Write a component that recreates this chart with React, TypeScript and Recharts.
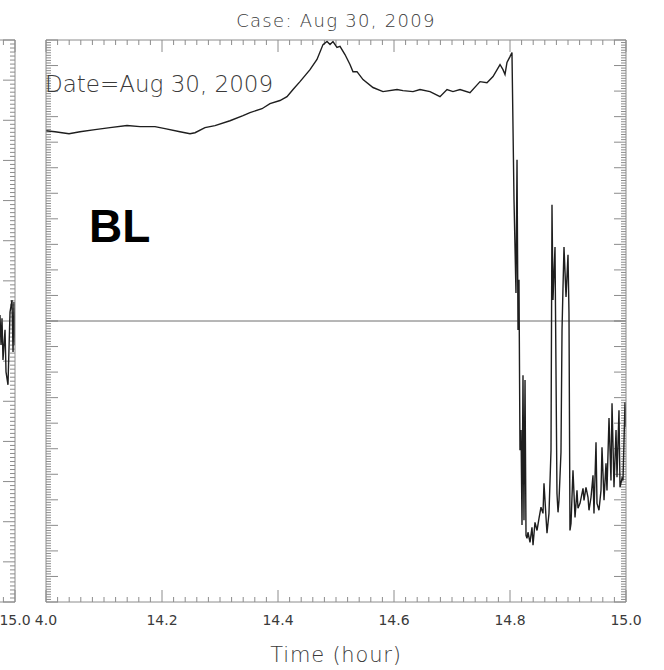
import React from "react";
import { LineChart, Line, XAxis, YAxis, ReferenceLine } from "recharts";

const AXIS = "#8c8c8c";
const ZERO = "#6e6e6e";
const INK = "#1e1e1e";
const TEXT = "#3a3a3a";
const FONT = '"DejaVu Sans", sans-serif';

// BL panel: time (hour) and signal
const blTime = [
  14.0, 14.0155, 14.0397, 14.0586, 14.0845, 14.1103, 14.1397, 14.1621, 14.1879, 14.2052,
  14.231, 14.2483, 14.2569, 14.2741, 14.2914, 14.3172, 14.3397, 14.3517, 14.3724, 14.3862,
  14.4034, 14.4155, 14.4259, 14.4379, 14.4552, 14.4672, 14.4776, 14.4845, 14.4897, 14.4948,
  14.5017, 14.5069, 14.5155, 14.5241, 14.5293, 14.5362, 14.5466, 14.5638, 14.581, 14.6052,
  14.6155, 14.6328, 14.6448, 14.6621, 14.6793, 14.6914, 14.7017, 14.7138, 14.731, 14.7483,
  14.7603, 14.7707, 14.7828, 14.7879, 14.7914, 14.7948, 14.8, 14.8034,
  14.8069, 14.8103, 14.8121, 14.8138, 14.8155, 14.8172, 14.819, 14.8207, 14.8224, 14.8241,
  14.8259, 14.8276, 14.8293, 14.831, 14.8345, 14.8379, 14.8397, 14.8431, 14.8466, 14.85,
  14.8534, 14.8569, 14.8586, 14.8621, 14.8638, 14.8672, 14.8707, 14.8724, 14.8741, 14.8776,
  14.881, 14.8828, 14.8845, 14.8879, 14.8897, 14.8914, 14.8931, 14.8966, 14.9, 14.9017,
  14.9034, 14.9052, 14.9086, 14.9121, 14.9155, 14.9172, 14.9207, 14.9259, 14.9276, 14.931,
  14.9345, 14.9362, 14.9397, 14.9431, 14.9448, 14.9483, 14.95, 14.9534, 14.9569, 14.9586,
  14.9621, 14.9655, 14.9672, 14.9707, 14.9741, 14.9759, 14.9793, 14.9828, 14.9845, 14.9879,
  14.9897, 14.9931, 14.9948, 14.9983, 15.0,
];
const blValue = [
  7.45, 7.41, 7.33, 7.41, 7.49, 7.57, 7.65, 7.61, 7.61, 7.53,
  7.41, 7.33, 7.37, 7.57, 7.65, 7.84, 8.04, 8.16, 8.31, 8.51,
  8.63, 8.78, 9.06, 9.37, 9.84, 10.24, 10.82, 10.94, 10.82, 10.94,
  10.71, 10.75, 10.43, 10.04, 9.76, 9.76, 9.45, 9.14, 8.98, 9.06,
  9.02, 8.98, 9.06, 8.98, 8.78, 9.06, 8.98, 9.06, 8.94, 9.37,
  9.33, 9.57, 10.04, 9.84, 9.65, 10.12, 10.35, 10.51,
  4.75, 1.1, 6.31, -0.35, 1.61, -5.06, -4.27, -7.99, -2.12, -7.8,
  -2.31, -8.39, -8.51, -8.27, -8.67, -8.08, -8.78, -7.88, -8.2, -7.73,
  -7.29, -7.53, -6.35, -7.69, -8.31, -7.53, -5.06, 4.55, 0.82, 2.9,
  -6.75, -7.49, -7.02, -5.14, -0.35, 1.33, 2.9, 0.94, 2.59, 0.31,
  -8.2, -7.92, -5.84, -7.69, -6.63, -7.33, -7.14, -6.55, -7.02, -6.51,
  -6.9, -7.41, -6.9, -6.04, -7.53, -4.75, -7.14, -7.41, -6.63, -4.94,
  -7.02, -5.57, -6.63, -3.8, -6.24, -3.22, -6.51, -4.27, -6.12, -3.49,
  -6.51, -6.16, -6.24, -3.18, -4.16,
];

// neighbouring panel, only its last minutes show at the left edge
const leftTime = [14.9741, 14.9759, 14.9776, 14.9793, 14.9828, 14.9845, 14.9879, 14.9914, 14.9948, 14.9966, 14.9983, 15.0];
const leftValue = [0.15, -0.6, 0.07, -0.97, -0.22, -1.27, -1.59, 0.22, 0.52, -0.77, 0.47, -0.6];

const xMajor = [14.0, 14.2, 14.4, 14.6, 14.8, 15.0];
const xMajorLabels = ["4.0", "14.2", "14.4", "14.6", "14.8", "15.0"];
const leftMajor = [15.0];
const leftMajorLabels = ["15.0"];

const title = "Case: Aug 30, 2009";
const dateNote = "Date=Aug 30, 2009";
const panelTag = "BL";
const xTitle = "Time (hour)";

const steps = (from: number, to: number, step: number) => {
  const out: number[] = [];
  const n = Math.round((to - from) / step);
  for (let i = 0; i <= n; i++) out.push(+(from + i * step).toFixed(4));
  return out;
};

const xTicks = steps(14, 15, 0.02);
const yTicks = steps(-11, 11, 0.1);
const leftXTicks = steps(14.9, 15, 0.02);
const leftYTicks = steps(-7, 7, 0.1);

const blData = blTime.map((t, i) => ({ t, v: blValue[i] }));
const leftData = leftTime.map((t, i) => ({ t, v: leftValue[i] }));

const isMajor = (v: number, per: number) => Math.abs(v * per - Math.round(v * per)) < 1e-6;

// tick lengths: 12px major / 5px minor, expressed in each axis' units
const PX_PER_HOUR = 580;
const tickLen = (major: boolean, pxPerUnit: number) => (major ? 12 : 5) / pxPerUnit;

const labelTick = (values: number[], labels: string[]) => (p: any) => {
  const i = values.findIndex((v) => Math.abs(v - p.payload.value) < 1e-6);
  return (
    <text x={p.x} y={p.y + 23} textAnchor="middle" fontSize={14} fill={TEXT} fontFamily={FONT}>
      {i >= 0 ? labels[i] : ""}
    </text>
  );
};

function frameTicks(opts: {
  xs: number[];
  ys: number[];
  xDomain: [number, number];
  yDomain: [number, number];
  pxPerY: number;
  left: boolean;
  right: boolean;
}) {
  const { xs, ys, xDomain, yDomain, pxPerY, left, right } = opts;
  const out: React.ReactNode[] = [];
  xs.forEach((t) => {
    const d = tickLen(isMajor(t, 5), pxPerY);
    out.push(
      <ReferenceLine key={`b${t}`} xAxisId="b" yAxisId="l" ifOverflow="visible" stroke={AXIS}
        segment={[{ x: t, y: yDomain[0] }, { x: t, y: yDomain[0] + d }]} />,
      <ReferenceLine key={`t${t}`} xAxisId="b" yAxisId="l" ifOverflow="visible" stroke={AXIS}
        segment={[{ x: t, y: yDomain[1] }, { x: t, y: yDomain[1] - d }]} />
    );
  });
  ys.forEach((v) => {
    const d = tickLen(isMajor(v, 1), PX_PER_HOUR);
    if (left)
      out.push(
        <ReferenceLine key={`l${v}`} xAxisId="b" yAxisId="l" ifOverflow="visible" stroke={AXIS}
          segment={[{ x: xDomain[0], y: v }, { x: xDomain[0] + d, y: v }]} />
      );
    if (right)
      out.push(
        <ReferenceLine key={`r${v}`} xAxisId="b" yAxisId="l" ifOverflow="visible" stroke={AXIS}
          segment={[{ x: xDomain[1], y: v }, { x: xDomain[1] - d, y: v }]} />
      );
  });
  return out;
}

const MAIN_X: [number, number] = [14, 15];
const MAIN_Y: [number, number] = [-11, 11];
const LEFT_X: [number, number] = [15 - 644 / PX_PER_HOUR, 15];
const LEFT_Y: [number, number] = [-7, 7];

export default function App() {
  return (
    <div style={{ position: "absolute", left: 0, top: 0, width: 664, height: 670, overflow: "hidden", background: "#fff" }}>
      {/* sliver of the previous panel */}
      <div style={{ position: "absolute", left: -629, top: 0 }}>
        <LineChart width={664} height={670} data={leftData} margin={{ top: 0, right: 0, bottom: 0, left: 0 }}>
          <XAxis xAxisId="b" dataKey="t" type="number" domain={LEFT_X} ticks={leftMajor} interval={0}
            tickSize={0} tickMargin={0} height={68} tickLine={false} axisLine={{ stroke: AXIS }}
            tick={labelTick(leftMajor, leftMajorLabels)} allowDataOverflow />
          <XAxis xAxisId="t" orientation="top" dataKey="t" type="number" domain={LEFT_X} height={40}
            tick={false} tickLine={false} axisLine={{ stroke: AXIS }} allowDataOverflow />
          <YAxis yAxisId="l" hide type="number" domain={LEFT_Y} allowDataOverflow />
          <YAxis yAxisId="r" orientation="right" type="number" domain={LEFT_Y} width={20}
            tick={false} tickLine={false} axisLine={{ stroke: AXIS }} />
          {frameTicks({ xs: leftXTicks, ys: leftYTicks, xDomain: LEFT_X, yDomain: LEFT_Y, pxPerY: 562 / 14, left: false, right: true })}
          <Line xAxisId="b" yAxisId="l" dataKey="v" stroke={INK} strokeWidth={1.4} dot={false} isAnimationActive={false} />
        </LineChart>
      </div>

      <div style={{ position: "absolute", left: 0, top: 0 }}>
        <LineChart width={664} height={670} data={blData} margin={{ top: 0, right: 0, bottom: 0, left: 0 }}>
          <XAxis xAxisId="b" dataKey="t" type="number" domain={MAIN_X} ticks={xMajor} interval={0}
            tickSize={0} tickMargin={0} height={68} tickLine={false} axisLine={{ stroke: AXIS }}
            tick={labelTick(xMajor, xMajorLabels)} allowDataOverflow />
          <XAxis xAxisId="t" orientation="top" dataKey="t" type="number" domain={MAIN_X} height={40}
            tick={false} tickLine={false} axisLine={{ stroke: AXIS }} allowDataOverflow />
          <YAxis yAxisId="l" type="number" domain={MAIN_Y} width={46}
            tick={false} tickLine={false} axisLine={{ stroke: AXIS }} allowDataOverflow />
          <YAxis yAxisId="r" orientation="right" type="number" domain={MAIN_Y} width={38}
            tick={false} tickLine={false} axisLine={{ stroke: AXIS }} />
          {frameTicks({ xs: xTicks, ys: yTicks, xDomain: MAIN_X, yDomain: MAIN_Y, pxPerY: 562 / 22, left: true, right: true })}
          <ReferenceLine xAxisId="b" yAxisId="l" y={0} stroke={ZERO} />
          <Line xAxisId="b" yAxisId="l" dataKey="v" stroke={INK} strokeWidth={1.4} dot={false} isAnimationActive={false} />
        </LineChart>
      </div>

      <svg width={664} height={670} style={{ position: "absolute", left: 0, top: 0, pointerEvents: "none" }}>
        <text x={336} y={27} textAnchor="middle" fontSize={18} fontWeight={300} letterSpacing={1.3} fill={TEXT} fontFamily={FONT}>
          {title}
        </text>
        <text x={45} y={92} fontSize={23} fontWeight={300} fill={TEXT} fontFamily={FONT}>
          {dateNote}
        </text>
        <text x={89} y={242} fontSize={46} fontWeight={700} fill="#000" fontFamily='"Liberation Sans", Arial, sans-serif'>
          {panelTag}
        </text>
        <text x={336} y={662} textAnchor="middle" fontSize={21} fontWeight={300} letterSpacing={0.8} fill={TEXT} fontFamily={FONT}>
          {xTitle}
        </text>
      </svg>
    </div>
  );
}
